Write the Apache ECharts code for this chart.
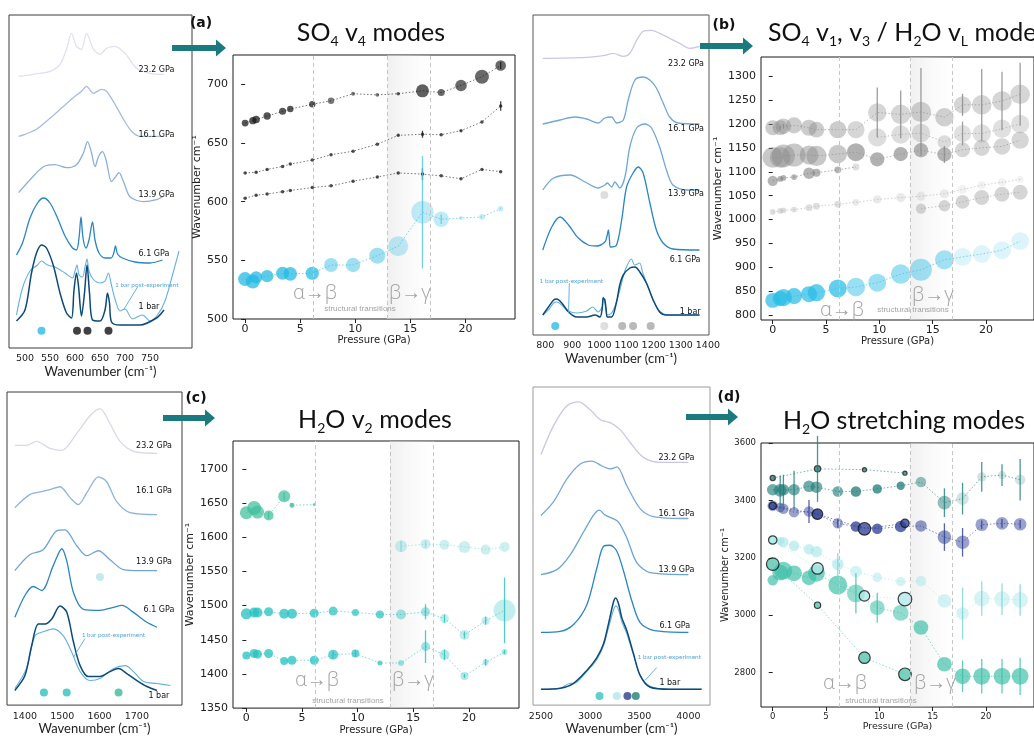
<!DOCTYPE html>
<html>
<head>
<meta charset="utf-8">
<title>Raman modes under pressure</title>
<script src="https://cdn.jsdelivr.net/npm/echarts@6/dist/echarts.min.js"></script>
<style>
html,body{margin:0;padding:0;background:#fff;}
#chart{width:1034px;height:736px;}
</style>
</head>
<body>
<div id="chart"></div>
<script>
// ---------- pressure steps (GPa) ----------
const pressures = [0, 0.7, 1.0, 2.0, 3.4, 4.1, 6.1, 7.8, 9.8, 12.0, 13.9, 16.1, 17.8, 19.6, 21.5, 23.2];
const pressuresRun2 = [0, 4.2, 8.6, 12.4];
// alpha->beta, start and end of beta->gamma (GPa)
const transitions = [6.2, 12.9, 16.8];
const pressureTicks = [0, 5, 10, 15, 20];

// ---------- (a) SO4 v4 modes ----------
const v4Top = [667, 669, 670, 673, 677, 679, 683, 686, 692, 691, 692, 694.5, 693, 699, 706.5, 716];
const v4TopAmp = [34, 36, 38, 37, 35, 32, 32, 32, 20, 18, 18, 65, 35, 58, 70, 53];
const v4TopErr = [0, 0, 0, 0, 0, 0, 0, 0, 0, 0, 0, 0, 0, 0, 0, 3];
const v4Mid = [624.5, null, 625, 627.5, 630, 632, 635.5, 640, 643, 649, 656.5, 657.5, 657, 660.5, 668, 681.5];
const v4MidErr = [0, 0, 0, 0, 0, 0, 0, 0, 0, 0, 0, 3, 0, 0, 0, 4];
const v4Low = [603, null, 605.5, 606.5, 608.5, 609.5, 612, 613.5, 617.5, 621, 624.5, 623.5, 622, 619.5, 627.5, 625.5];
const v4LowErr = [0, 0, 0, 0, 0, 0, 0, 0, 0, 0, 0, 5, 0, 0, 0, 0];
const v4Cyan = [534, 532, 535.5, 536.5, 539, 538.5, 539, 546, 546, 554, 562, 591, 585, 586, 587, 594];
const v4CyanAmp = [70, 70, 62, 62, 65, 68, 66, 70, 72, 80, 100, 112, 78, 20, 28, 26];
const v4CyanErr = [0, 0, 0, 0, 0, 0, 0, 0, 0, 0, 0, 48, 4, 0, 0, 0];

// ---------- (b) SO4 v1, v3 / H2O vL modes ----------
const bCyan = [831, 835, 837, 840, 844, 847, 856, 859, 868, 886, 895, 916, 922, 928, 936, 955];
const bCyanAmp = [65, 65, 75, 70, 70, 75, 78, 80, 78, 85, 95, 82, 78, 78, 78, 78];
const bG1 = [1192, 1192, 1195, 1197, 1192, 1188, 1188, 1188, 1224, 1220, 1225, 1214, 1240, 1240, 1248, 1262];
const bG1Amp = [65, 65, 68, 70, 70, 68, 75, 75, 80, 85, 88, 80, 75, 85, 85, 85];
const bG1Err = [0, 5, 5, 0, 0, 0, 0, 0, 52, 50, 92, 0, 23, 75, 61, 66];
const bG2 = [1130, 1130, 1133, 1135, 1135, 1133, 1137, 1141, 1126, 1137, 1145, 1136, 1146, 1150, 1153, 1166];
const bG2Amp = [90, 90, 100, 100, 82, 88, 80, 78, 62, 62, 62, 62, 65, 70, 72, 75];
const bG2Err = [0, 0, 0, 0, 0, 0, 0, 0, 0, 0, 0, 18, 0, 0, 0, 0];
const bG3 = [null, null, null, null, null, null, null, null, 1172, 1178, 1181, 1162, 1180, 1180, 1190, 1200];
const bG3Amp = [0, 0, 0, 0, 0, 0, 0, 0, 80, 80, 80, 60, 75, 80, 80, 80];
const bG3Err = [0, 0, 0, 0, 0, 0, 0, 0, 0, 0, 0, 0, 25, 0, 0, 0];
const bG4 = [1081, 1085, 1087, 1089, 1097, 1098, 1104, 1110, null, null, null, null, null, null, null, null];
const bG4Amp = [45, 25, 25, 25, 50, 35, 30, 30, 0, 0, 0, 0, 0, 0, 0, 0];
const bG5 = [1016, 1018, 1019, 1021, 1025, 1028, 1032, 1036, 1042, 1046, 1049, 1054, 1063, 1072, 1078, 1084];
const bG5Amp = [25, 25, 25, 25, 30, 30, 30, 30, 35, 40, 40, 40, 40, 35, 35, 30];
const bG6 = [null, null, null, null, null, null, null, null, null, null, 1023, 1029, 1037, 1046, 1053, 1057];
const bG6Amp = [0, 0, 0, 0, 0, 0, 0, 0, 0, 0, 45, 50, 60, 65, 65, 65];

// ---------- (c) H2O v2 modes ----------
const cTop = [1636, 1643, 1637, 1632, 1660, 1647, 1648, null, null, null, null, null, null, null, null, null];
const cTopAmp = [65, 70, 65, 50, 60, 25, 15, 0, 0, 0, 0, 0, 0, 0, 0, 0];
const cTopErr = [0, 0, 0, 5, 6, 3, 0, 0, 0, 0, 0, 0, 0, 0, 0, 0];
const cHigh = [null, null, null, null, null, null, null, null, null, null, 1587, 1590, 1589, 1586, 1582, 1586];
const cHighAmp = [0, 0, 0, 0, 0, 0, 0, 0, 0, 0, 60, 50, 50, 60, 50, 50];
const cHighErr = [0, 0, 0, 0, 0, 0, 0, 0, 0, 0, 8, 5, 0, 0, 0, 0];
const cMid = [1488, 1490, 1490, 1491, 1488, 1488, 1489, 1492, 1490, 1487, 1487, 1491, 1481, 1457, 1478, 1493];
const cMidAmp = [55, 50, 50, 45, 50, 50, 45, 45, 35, 40, 50, 45, 45, 50, 40, 110];
const cMidErr = [0, 0, 0, 0, 0, 0, 0, 0, 0, 0, 0, 11, 6, 5, 6, 48];
const cLow = [1427, 1430, 1429, 1430, 1419, 1420, 1420, 1428, 1430, 1416, 1416, 1440, 1428, 1397, 1417, 1432];
const cLowAmp = [40, 45, 45, 45, 40, 45, 45, 50, 40, 25, 30, 45, 50, 40, 30, 30];
const cLowErr = [0, 0, 0, 0, 0, 0, 0, 5, 5, 0, 0, 24, 8, 3, 5, 3];

// ---------- (d) H2O stretching modes ----------
const dTeal = [3437, 3435, 3437, 3437, 3449, 3446, 3431, 3431, 3440, 3451, 3464, 3392, 3406, 3482, 3488, 3472];
const dTealAmp = [55, 60, 55, 55, 55, 55, 50, 50, 45, 40, 50, 65, 60, 45, 40, 50];
const dTealErr = [0, 52, 52, 66, 0, 0, 0, 0, 0, 0, 0, 50, 55, 52, 38, 72];
const dNavy = [3381, 3375, 3371, 3359, 3361, 3352, 3320, 3309, 3301, 3309, 3311, 3272, 3254, 3315, 3320, 3317];
const dNavyAmp = [50, 45, 50, 50, 50, 50, 50, 50, 50, 55, 55, 65, 65, 60, 60, 60];
const dNavyErr = [0, 0, 0, 0, 40, 0, 15, 0, 0, 0, 0, 48, 50, 15, 15, 15];
const dCyan = [3262, 3258, 3254, 3242, 3230, 3221, 3177, 3152, 3132, 3117, 3119, 3050, 3006, 3058, 3056, 3053];
const dCyanAmp = [40, 40, 50, 50, 50, 55, 55, 55, 45, 45, 50, 65, 60, 75, 75, 75];
const dCyanErr = [0, 0, 0, 0, 0, 0, 40, 0, 0, 0, 0, 0, 90, 60, 55, 55];
const dGreen = [3122, 3148, 3155, 3146, 3130, 3146, 3105, 3076, 3026, 3008, 2957, 2829, 2787, 2787, 2787, 2787];
const dGreenAmp = [50, 75, 85, 75, 70, 80, 90, 85, 70, 75, 70, 70, 75, 80, 80, 80];
const dGreenErr = [0, 0, 0, 0, 0, 0, 0, 70, 52, 0, 0, 0, 55, 60, 60, 65];
// second run (outlined markers)
const d2Top = [3478, 3510, 3507, 3495];
const d2TopAmp = [25, 30, 20, 20];
const d2TopErr = [0, 115, 0, 0];
const d2Navy = [3381, 3352, 3301, 3320];
const d2NavyAmp = [35, 50, 60, 40];
const d2Cyan = [3262, 3163, 3067, 3056];
const d2CyanAmp = [40, 55, 50, 65];
const d2Green = [3178, 3035, 2852, 2794];
const d2GreenAmp = [60, 30, 55, 60];

// ---------- spectra: [wavenumber, intensity] ----------
const spectrumNames = ['23.2 GPa', '16.1 GPa', '13.9 GPa', '6.1 GPa', '1 bar'];
const a232 = [[487,0],[517,2],[550,5],[570,12],[583,27],[593,43],[603,30],[613,27],[623,43],[637,27],[650,22],[663,28],[680,30],[700,23],[723,8],[750,3],[777,2]];
const a161 = [[487,0],[500,2],[523,7],[550,18],[577,30],[600,40],[613,45],[623,50],[637,43],[653,47],[663,45],[680,32],[697,17],[713,5],[730,0],[763,0],[777,0]];
const a139 = [[487,7],[510,20],[537,33],[560,35],[583,32],[603,35],[617,47],[625,58],[633,47],[640,33],[647,43],[655,48],[662,40],[673,18],[680,22],[688,27],[697,18],[710,3],[737,-2],[763,0],[775,3]];
const a61 = [[483,3],[495,15],[510,40],[525,55],[537,60],[550,55],[565,40],[580,22],[595,10],[603,8],[608,20],[612,41],[616,20],[622,10],[628,18],[635,36],[640,18],[648,5],[660,0],[672,0],[677,4],[681,12],[685,4],[695,0],[720,-4],[750,-5],[775,-2]];
const aPost = [[483,8],[495,35],[510,52],[525,58],[533,62],[545,58],[560,56],[580,50],[595,45],[600,52],[604,58],[608,48],[615,46],[620,56],[624,64],[628,52],[636,44],[650,40],[660,42],[667,50],[672,40],[680,24],[690,12],[700,14],[715,4],[735,8],[750,2],[765,8],[780,22],[795,48],[808,72]];
const a1bar = [[483,2],[500,13],[513,50],[523,70],[533,78],[543,75],[557,57],[570,30],[583,10],[593,5],[598,33],[603,50],[607,37],[613,7],[619,30],[624,58],[629,30],[635,3],[650,2],[660,13],[665,30],[669,20],[673,1],[690,-2],[730,-2],[763,5],[778,13]];
const aModes = [533, 604, 625, 667];

const b232 = [[791,0],[953,1],[1020,3],[1051,5],[1088,2],[1112,5],[1137,18],[1161,27],[1192,28],[1222,25],[1259,20],[1296,15],[1333,10],[1369,12]];
const b161 = [[791,0],[855,4],[910,7],[953,5],[996,1],[1020,6],[1045,7],[1063,1],[1088,4],[1106,24],[1131,44],[1161,47],[1186,44],[1210,36],[1235,21],[1259,7],[1290,1],[1369,0]];
const b139 = [[791,0],[831,12],[892,15],[947,8],[996,2],[1020,5],[1029,7],[1045,3],[1057,8],[1075,2],[1094,13],[1112,43],[1137,62],[1167,66],[1192,62],[1222,43],[1247,20],[1271,5],[1320,0],[1369,0]];
const b61 = [[791,0],[824,23],[855,33],[886,25],[922,12],[959,5],[990,4],[1020,8],[1028,14],[1033,20],[1037,10],[1041,3],[1063,5],[1082,30],[1100,63],[1124,77],[1143,83],[1161,77],[1186,47],[1210,20],[1235,7],[1271,1],[1369,0]];
const bPost = [[791,0],[812,5],[831,12],[843,13],[861,10],[886,4],[916,2],[953,4],[975,8],[995,3],[1010,8],[1014,18],[1020,12],[1029,0],[1045,2],[1063,13],[1080,30],[1095,45],[1118,56],[1130,50],[1148,52],[1160,42],[1180,28],[1200,14],[1222,4],[1250,0],[1296,0],[1369,0]];
const b1bar = [[791,0],[812,8],[831,15],[843,16],[861,12],[886,3],[916,-2],[953,-2],[984,0],[1002,-2],[1010,6],[1014,17],[1020,15],[1025,5],[1029,-2],[1045,-2],[1063,13],[1075,30],[1088,40],[1112,47],[1131,48],[1149,43],[1173,32],[1198,15],[1222,3],[1247,0],[1296,0],[1369,0]];
const bModes = [837, 1018, 1084, 1124, 1189];

const c232 = [[1373,8],[1404,8],[1431,12],[1467,5],[1499,3],[1539,20],[1575,38],[1601,45],[1628,30],[1655,12],[1691,2],[1754,0]];
const c161 = [[1373,7],[1413,20],[1445,23],[1467,25],[1494,28],[1521,17],[1543,10],[1566,22],[1597,38],[1619,33],[1646,13],[1682,2],[1754,0]];
const c139 = [[1373,2],[1413,18],[1449,23],[1485,42],[1507,43],[1539,27],[1566,17],[1597,22],[1628,13],[1664,3],[1709,2],[1754,2]];
const c61 = [[1373,0],[1400,22],[1422,31],[1445,27],[1476,52],[1499,69],[1512,57],[1530,25],[1557,8],[1601,7],[1637,10],[1660,12],[1691,5],[1727,-5],[1754,-10]];
const cPost = [[1373,0],[1404,20],[1427,53],[1449,57],[1476,60],[1503,53],[1525,37],[1548,17],[1575,8],[1601,10],[1637,20],[1669,23],[1691,17],[1718,7],[1754,5],[1790,3]];
const c1bar = [[1373,-2],[1400,13],[1418,43],[1436,65],[1454,65],[1472,70],[1494,83],[1512,77],[1530,47],[1548,23],[1570,12],[1601,12],[1628,17],[1651,20],[1673,15],[1700,8],[1727,2],[1754,-2]];
const cModes = [1451, 1512, 1651];

const d232 = [[2500,8],[2629,37],[2764,57],[2883,61],[3001,53],[3103,43],[3204,40],[3306,33],[3408,20],[3543,5],[3713,0],[4000,0]];
const d161 = [[2500,3],[2629,17],[2764,40],[2900,55],[3018,58],[3120,53],[3204,50],[3272,52],[3374,33],[3509,10],[3645,2],[4000,0]];
const d139 = [[2500,0],[2662,5],[2798,20],[2933,43],[3035,60],[3093,65],[3154,60],[3221,57],[3289,53],[3374,37],[3475,12],[3611,2],[4000,0]];
const d61 = [[2500,0],[2696,1],[2832,8],[2967,28],[3069,65],[3137,87],[3204,88],[3272,82],[3340,62],[3424,32],[3509,10],[3645,2],[4000,0]];
const dPost = [[2500,0],[2696,1],[2800,6],[2832,6],[2967,18],[3069,30],[3137,44],[3187,62],[3238,80],[3262,84],[3290,80],[3323,68],[3374,56],[3441,35],[3509,14],[3611,3],[3814,0],[4135,0]];
const d1bar = [[2500,0],[2696,1],[2832,6],[2967,19],[3069,32],[3137,46],[3187,66],[3238,88],[3260,92],[3290,86],[3323,72],[3374,59],[3441,36],[3509,14],[3611,2],[3814,0],[4135,0]];
const dModes = [3096, 3272, 3380, 3465];

// ---------- helpers ----------
const hex2rgba = (hex, a) => {
  const n = parseInt(hex.slice(1), 16);
  return `rgba(${(n >> 16) & 255},${(n >> 8) & 255},${n & 255},${a})`;
};
const phaseOf = p => p < transitions[0] ? 0 : p < transitions[1] ? 1 : p < transitions[2] ? 2 : 3;
const plain = v => String(v);

const grids = [], xAxes = [], yAxes = [], series = [], graphics = [];

function textSeries(gi, items, font, color) {
  series.push({
    type: 'custom', xAxisIndex: gi, yAxisIndex: gi, silent: true, z: 6,
    data: items.map(it => [it[0], it[1]]),
    renderItem: (params, api) => {
      const pt = api.coord([api.value(0), api.value(1)]);
      return { type: 'text', x: pt[0], y: pt[1],
        style: { text: items[params.dataIndex][2], fill: color, font: font,
                 align: 'left', verticalAlign: 'middle', textAlign: 'left', textVerticalAlign: 'middle' } };
    }
  });
}

// stacked spectra panel
function spectraPanel(cfg) {
  const gi = grids.length;
  const [l, t, w, h] = cfg.box;
  grids.push({ left: l, top: t, width: w, height: h, show: true, borderColor: cfg.frame, borderWidth: 1, backgroundColor: 'transparent' });
  xAxes.push({
    gridIndex: gi, type: 'value', min: cfg.xRange[0], max: cfg.xRange[1],
    axisLine: { show: false }, axisTick: { show: false }, splitLine: { show: false },
    axisLabel: { customValues: cfg.ticks, formatter: plain, fontSize: 9.5, color: '#222', margin: 6, fontFamily: 'DejaVu Sans' },
    name: 'Wavenumber (cm⁻¹)', nameLocation: 'middle', nameGap: 16,
    nameTextStyle: { fontFamily: 'Lato', fontSize: 13, color: '#222' }
  });
  yAxes.push({ gridIndex: gi, type: 'value', min: 0, max: h, show: false });
  cfg.traces.forEach(tr => {
    series.push({
      type: 'line', xAxisIndex: gi, yAxisIndex: gi, silent: true, z: 2,
      data: tr.data.map(d => [d[0], d[1] + tr.offset]),
      smooth: 0.3, symbol: 'none', showSymbol: false,
      lineStyle: { color: tr.color, width: tr.width || 1.3 }
    });
  });
  // pointer for the post-experiment trace
  series.push({
    type: 'line', xAxisIndex: gi, yAxisIndex: gi, silent: true, z: 3, symbol: 'none',
    data: cfg.pointer, lineStyle: { color: '#5aa8d8', width: 0.9 }
  });
  // mode markers
  series.push({
    type: 'scatter', xAxisIndex: gi, yAxisIndex: gi, silent: true, z: 4, symbolSize: 8,
    data: cfg.marks.map((wn, i) => ({ value: [wn, cfg.markLevel], itemStyle: { color: cfg.markColors[i] } }))
      .concat((cfg.extraMarks || []).map(m => ({ value: [m[0], m[1]], itemStyle: { color: m[2] } })))
  });
  textSeries(gi, cfg.labels.map((p, i) => [p[0], p[1], spectrumNames[i]]), '8px "DejaVu Sans"', '#111');
  textSeries(gi, [[cfg.postLabel[0], cfg.postLabel[1], '1 bar post-experiment']], '6.5px Lato', '#5aa8d8');
}

// mode frequency vs pressure panel
function pressurePanel(cfg) {
  const gi = grids.length;
  const [l, t, w, h] = cfg.box;
  const k = cfg.sizeScale || 1;
  grids.push({ left: l, top: t, width: w, height: h, show: true, borderColor: '#1a1a1a', borderWidth: 1, backgroundColor: 'transparent' });
  xAxes.push({
    gridIndex: gi, type: 'value', min: cfg.xRange[0], max: cfg.xRange[1],
    axisLine: { show: false }, splitLine: { show: false },
    axisTick: { show: true, customValues: pressureTicks, length: 4, lineStyle: { color: '#222' } },
    axisLabel: { customValues: pressureTicks, formatter: plain, fontSize: cfg.tickFont, color: '#222', margin: 5, fontFamily: 'DejaVu Sans' },
    name: 'Pressure (GPa)', nameLocation: 'middle', nameGap: cfg.xNameGap,
    nameTextStyle: { fontSize: cfg.nameFont, color: '#222', fontFamily: 'DejaVu Sans' }
  });
  yAxes.push({
    gridIndex: gi, type: 'value', min: cfg.yRange[0], max: cfg.yRange[1],
    axisLine: { show: false }, splitLine: { show: false },
    axisTick: { show: true, customValues: cfg.yTicks, length: 4, lineStyle: { color: '#222' } },
    axisLabel: { customValues: cfg.yTicks, formatter: plain, fontSize: cfg.tickFont, color: '#222', margin: 5, fontFamily: 'DejaVu Sans' },
    name: 'Wavenumber cm⁻¹', nameLocation: 'middle', nameGap: cfg.yNameGap,
    nameTextStyle: { fontSize: cfg.yNameFont, color: '#222', fontFamily: 'DejaVu Sans' }
  });
  // transition band and boundaries
  series.push({
    type: 'line', xAxisIndex: gi, yAxisIndex: gi, data: [], silent: true, z: 1,
    markArea: {
      silent: true,
      itemStyle: { color: new echarts.graphic.LinearGradient(0, 0, 1, 0, [
        { offset: 0, color: 'rgba(225,225,225,0.5)' }, { offset: 1, color: 'rgba(250,250,250,0.15)' }]) },
      data: [[{ xAxis: transitions[1] }, { xAxis: transitions[2] }]]
    },
    markLine: {
      silent: true, symbol: ['none', 'none'], label: { show: false },
      lineStyle: { type: [4, 3], color: '#c6c6c6', width: 1 },
      data: transitions.map(x => ({ xAxis: x }))
    }
  });
  cfg.modes.forEach(m => {
    const pts = [];
    m.p.forEach((P, i) => {
      if (m.v[i] != null) pts.push([P, m.v[i], m.amp ? m.amp[i] : m.size * 5, m.err ? m.err[i] : 0]);
    });
    series.push({
      type: 'line', xAxisIndex: gi, yAxisIndex: gi, silent: true, z: 3, symbol: 'none',
      data: pts.map(d => [d[0], d[1]]),
      lineStyle: { type: [1.5, 2], width: 1, color: hex2rgba(m.color, m.lineAlpha || 0.6) }
    });
    series.push({
      type: 'scatter', xAxisIndex: gi, yAxisIndex: gi, silent: true, z: 4,
      data: pts, symbolSize: v => v[2] / 5 * (m.size ? 1 : k),
      itemStyle: {
        color: prm => hex2rgba(m.color, m.alphas[phaseOf(prm.value[0])]),
        borderColor: m.border || 'transparent', borderWidth: m.border ? 1.2 : 0
      }
    });
    const errPts = pts.filter(d => d[3] > 0);
    if (errPts.length) {
      const ec = m.errColor || hex2rgba(m.color, 0.8);
      series.push({
        type: 'custom', xAxisIndex: gi, yAxisIndex: gi, silent: true, z: 5,
        data: errPts, encode: { x: 0, y: 1 },
        renderItem: (params, api) => {
          const x = api.value(0), y = api.value(1), e = api.value(3);
          const a = api.coord([x, y + e]), b = api.coord([x, y - e]);
          return { type: 'line', shape: { x1: a[0], y1: a[1], x2: b[0], y2: b[1] }, style: { stroke: ec, lineWidth: 1.3 } };
        }
      });
    }
  });
}

// ---------- spectra panels ----------
const blue1bar = '#0d4a78', bluePost = '#64b0e0', blue61 = '#2a85c2';
spectraPanel({
  box: [9, 15, 183, 333], frame: '#3a3a3a', xRange: [468, 834], ticks: [500, 550, 600, 650, 700, 750],
  traces: [
    { data: a232, offset: 271.7, color: '#e4def0' }, { data: a161, offset: 211.7, color: '#a9bce0' },
    { data: a139, offset: 148.3, color: '#8db0da' }, { data: a61, offset: 90, color: blue61 },
    { data: aPost, offset: 25, color: bluePost, width: 1.1 }, { data: a1bar, offset: 25, color: blue1bar, width: 1.5 }
  ],
  labels: [[727, 277.7], [727, 212.7], [727, 153.3], [727, 94.3], [727, 41]],
  postLabel: [680, 63.3], pointer: [[725, 61], [697, 38]],
  marks: aModes, markLevel: 17.3, markColors: ['#2bbbe3', '#111', '#111', '#111']
});
spectraPanel({
  box: [533, 15, 176, 320], frame: '#555', xRange: [755, 1404], ticks: [800, 900, 1000, 1100, 1200, 1300, 1400],
  traces: [
    { data: b232, offset: 276.7, color: '#cdc7e6' }, { data: b161, offset: 211, color: '#6fa7d9' },
    { data: b139, offset: 145, color: '#6fa7d9' }, { data: b61, offset: 85, color: blue61 },
    { data: bPost, offset: 20, color: bluePost, width: 1.1 }, { data: b1bar, offset: 20, color: blue1bar, width: 1.5 }
  ],
  labels: [[1253, 270.7], [1253, 206], [1253, 140.7], [1259, 75], [1296, 23.3]],
  postLabel: [779, 54.3], pointer: [[889, 51.7], [886, 21.7]],
  marks: bModes, markLevel: 9, markColors: ['#2bbde6', '#d6d6d6', '#a8a8a8', '#a8a8a8', '#a8a8a8'],
  extraMarks: [[1018, 140, '#d6d6d6']]
});
spectraPanel({
  box: [7, 392, 175, 315], frame: '#3a3a3a', xRange: [1352, 1821], ticks: [1400, 1500, 1600, 1700],
  traces: [
    { data: c232, offset: 253.3, color: '#dcd5ec' }, { data: c161, offset: 191.7, color: '#8fb3dc' },
    { data: c139, offset: 133.3, color: '#6fa5d6' }, { data: c61, offset: 88.3, color: blue61 },
    { data: cPost, offset: 16.7, color: bluePost, width: 1.1 }, { data: c1bar, offset: 16.7, color: blue1bar, width: 1.5 }
  ],
  labels: [[1698, 260.7], [1698, 215.7], [1698, 143.7], [1718, 95.7], [1731, 9]],
  postLabel: [1552, 70.7], pointer: [[1561, 67], [1530, 48]],
  marks: cModes, markLevel: 12.7, markColors: ['#2ec0bf', '#2ec0bf', '#3dba9c'],
  extraMarks: [[1601, 129, '#b6e5e5']]
});
spectraPanel({
  box: [533, 387, 177, 321], frame: '#9a9a9a', xRange: [2419, 4220], ticks: [2500, 3000, 3500, 4000],
  traces: [
    { data: d232, offset: 245, color: '#cbc6e5' }, { data: d161, offset: 188.3, color: '#7aa7d8' },
    { data: d139, offset: 131.7, color: '#6aa4d6' }, { data: d61, offset: 73.3, color: blue61 },
    { data: dPost, offset: 16, color: bluePost, width: 1.1 }, { data: d1bar, offset: 16, color: blue1bar, width: 1.5 }
  ],
  labels: [[3695, 249], [3695, 193.3], [3695, 136.7], [3705, 80], [3705, 22.3]],
  postLabel: [3482, 49], pointer: [[3678, 38], [3560, 25]],
  marks: dModes, markLevel: 9.3, markColors: ['#36c3c0', '#b4e6e9', '#2c3e90', '#1f7f78']
});

// ---------- pressure panels ----------
const P = pressures;
pressurePanel({
  box: [233, 55, 282, 264], xRange: [-1.1, 24.5], yRange: [500, 725], yTicks: [500, 550, 600, 650, 700],
  tickFont: 11, nameFont: 10, yNameFont: 11, xNameGap: 15, yNameGap: 28,
  modes: [
    { p: P, v: v4Top, amp: v4TopAmp, err: v4TopErr, color: '#151515', alphas: [0.9, 0.72, 0.85, 0.8] },
    { p: P, v: v4Mid, size: 3.5, err: v4MidErr, color: '#1a1a1a', alphas: [0.95, 0.95, 0.95, 0.95] },
    { p: P, v: v4Low, size: 3.5, err: v4LowErr, color: '#1a1a1a', alphas: [0.95, 0.95, 0.95, 0.95] },
    { p: P, v: v4Cyan, amp: v4CyanAmp, err: v4CyanErr, color: '#22b8e2', alphas: [0.92, 0.55, 0.35, 0.35], errColor: 'rgba(90,200,232,0.85)' }
  ]
});
pressurePanel({
  box: [761, 57, 281, 263], xRange: [-1.1, 24.5], yRange: [790, 1340], sizeScale: 1.15,
  yTicks: [800, 850, 900, 950, 1000, 1050, 1100, 1150, 1200, 1250, 1300],
  tickFont: 11, nameFont: 10, yNameFont: 11, xNameGap: 16, yNameGap: 35,
  modes: [
    { p: P, v: bG5, amp: bG5Amp, color: '#b0b0b0', alphas: [0.5, 0.35, 0.3, 0.2] },
    { p: P, v: bG4, amp: bG4Amp, color: '#7a7a7a', alphas: [0.7, 0.3, 0.3, 0.3] },
    { p: P, v: bG6, amp: bG6Amp, color: '#a0a0a0', alphas: [0.55, 0.55, 0.55, 0.55] },
    { p: P, v: bG3, amp: bG3Amp, err: bG3Err, color: '#a0a0a0', alphas: [0.45, 0.45, 0.45, 0.4], errColor: 'rgba(140,140,140,0.8)' },
    { p: P, v: bG2, amp: bG2Amp, err: bG2Err, color: '#8c8c8c', alphas: [0.6, 0.85, 0.8, 0.45], errColor: 'rgba(140,140,140,0.8)' },
    { p: P, v: bG1, amp: bG1Amp, err: bG1Err, color: '#8c8c8c', alphas: [0.55, 0.45, 0.5, 0.45], errColor: 'rgba(140,140,140,0.85)' },
    { p: P, v: bCyan, amp: bCyanAmp, color: '#2bbde6', alphas: [0.92, 0.6, 0.55, 0.2] }
  ]
});
pressurePanel({
  box: [233, 441, 286, 268], xRange: [-1.2, 24.5], yRange: [1350, 1741],
  yTicks: [1350, 1400, 1450, 1500, 1550, 1600, 1650, 1700],
  tickFont: 11, nameFont: 10, yNameFont: 11, xNameGap: 14, yNameGap: 35,
  modes: [
    { p: P, v: cTop, amp: cTopAmp, err: cTopErr, color: '#3fbf9d', alphas: [0.9, 0.9, 0.9, 0.9] },
    { p: P, v: cHigh, amp: cHighAmp, err: cHighErr, color: '#7fd8d8', alphas: [0.5, 0.5, 0.5, 0.5] },
    { p: P, v: cMid, amp: cMidAmp, err: cMidErr, color: '#26c1c1', alphas: [0.95, 0.9, 0.55, 0.35] },
    { p: P, v: cLow, amp: cLowAmp, err: cLowErr, color: '#26c1c1', alphas: [0.95, 0.9, 0.55, 0.45] }
  ]
});
pressurePanel({
  box: [761, 443, 281, 264], xRange: [-1.1, 24.5], yRange: [2680, 3600], sizeScale: 1.05,
  yTicks: [2800, 3000, 3200, 3400, 3600],
  tickFont: 8.5, nameFont: 9.5, yNameFont: 10, xNameGap: 15, yNameGap: 29,
  modes: [
    { p: P, v: dCyan, amp: dCyanAmp, err: dCyanErr, color: '#a3e6e8', alphas: [0.75, 0.6, 0.6, 0.55], errColor: 'rgba(120,210,214,0.8)' },
    { p: P, v: dGreen, amp: dGreenAmp, err: dGreenErr, color: '#3dbfa8', alphas: [0.85, 0.7, 0.85, 0.85] },
    { p: P, v: dNavy, amp: dNavyAmp, err: dNavyErr, color: '#2b3d94', alphas: [0.6, 0.95, 0.65, 0.6] },
    { p: P, v: dTeal, amp: dTealAmp, err: dTealErr, color: '#1f7d78', alphas: [0.8, 0.95, 0.6, 0.25] },
    { p: pressuresRun2, v: d2Green, amp: d2GreenAmp, color: '#45bfa8', alphas: [0.9, 0.9, 0.9, 0.9], border: '#111' },
    { p: pressuresRun2, v: d2Cyan, amp: d2CyanAmp, color: '#aee8ea', alphas: [0.95, 0.95, 0.95, 0.95], border: '#111' },
    { p: pressuresRun2, v: d2Navy, amp: d2NavyAmp, color: '#2b3d94', alphas: [0.95, 0.95, 0.95, 0.95], border: '#111' },
    { p: pressuresRun2, v: d2Top, amp: d2TopAmp, err: d2TopErr, color: '#1f7d78', alphas: [0.95, 0.9, 0.6, 0.6], border: '#222' }
  ]
});

// ---------- titles, panel letters, arrows, transition notes ----------
const titleRich = {
  m: { fontSize: 25, fontFamily: 'Lato', fill: '#111', lineHeight: 30 },
  s: { fontSize: 14, fontFamily: 'Lato', fill: '#111', lineHeight: 10, verticalAlign: 'bottom' }
};
function title(text, x, y, align) {
  graphics.push({ type: 'text', x, y, silent: true,
    style: { text, rich: titleRich, fill: '#111', align, verticalAlign: 'middle', textAlign: align, textVerticalAlign: 'middle' } });
}
title('{m|SO}{s|4}{m| v}{s|4}{m| modes}', 371, 33, 'center');
title('{m|SO}{s|4}{m| v}{s|1}{m|, v}{s|3}{m| / H}{s|2}{m|O v}{s|L}{m| modes}', 768, 33, 'left');
title('{m|H}{s|2}{m|O v}{s|2}{m| modes}', 375, 420, 'center');
title('{m|H}{s|2}{m|O stretching modes}', 783, 421, 'left');

[['(a)', 201, 23], ['(b)', 724, 25], ['(c)', 196, 398], ['(d)', 729, 397]].forEach(([t, x, y]) => {
  graphics.push({ type: 'text', x, y, silent: true,
    style: { text: t, font: 'bold 14px "DejaVu Sans"', fill: '#111', align: 'center', verticalAlign: 'middle', textAlign: 'center', textVerticalAlign: 'middle' } });
});

function arrow(x0, x1, y) {
  const hl = 10, sw = 3, hw = 8.5;
  graphics.push({ type: 'polygon', silent: true,
    shape: { points: [[x0, y - sw], [x1 - hl, y - sw], [x1 - hl, y - hw], [x1, y], [x1 - hl, y + hw], [x1 - hl, y + sw], [x0, y + sw]] },
    style: { fill: '#1b7a80' } });
}
arrow(172, 226, 48);
arrow(700, 753, 46);
arrow(163, 215, 418);
arrow(686, 738, 417);

function note(text, x, y, font) {
  graphics.push({ type: 'text', x, y, silent: true, z: 10,
    style: { text, font, fill: '#a3a3a3', align: 'center', verticalAlign: 'middle', textAlign: 'center', textVerticalAlign: 'middle' } });
}
const big = '300 20px "Open Sans"', small = '8px "Liberation Sans"';
[[315, 293, 410, 293, 360, 309], [842, 310, 933, 295, 913, 310], [317, 680, 413, 680, 348, 701], [845, 683, 935, 683, 881, 701]]
  .forEach(([ax, ay, bx, by, sx, sy]) => {
    note('α→β', ax, ay, big);
    note('β→γ', bx, by, big);
    note('structural transitions', sx, sy, small);
  });

const chart = echarts.init(document.getElementById('chart'), null, { renderer: 'canvas', width: 1034, height: 736 });
chart.setOption({
  animation: false,
  backgroundColor: '#fff',
  grid: grids, xAxis: xAxes, yAxis: yAxes, series,
  graphic: { elements: graphics }
});
</script>
</body>
</html>
